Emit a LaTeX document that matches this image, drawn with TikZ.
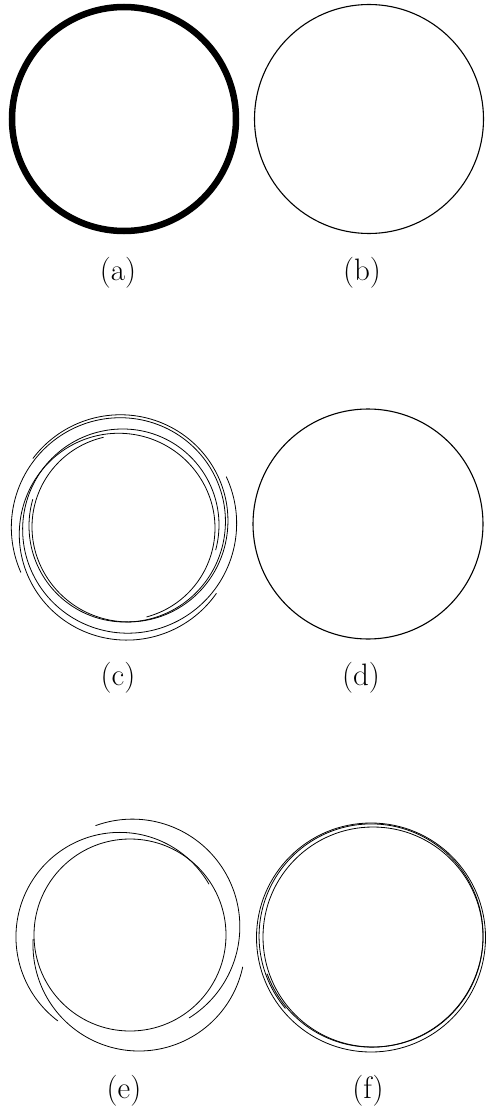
\documentclass[tikz,border=0pt]{standalone}
\tikzset{
  declare function={ss(\x)=3*(min(1,\x))^2-2*(min(1,\x))^3;},
  sk/.style={line width=0.8pt, line cap=round},
  thick ring/.style={line width=6.5pt},
  lbl/.style={inner sep=0pt, font=\fontsize{31}{37}\selectfont}
}
\newcommand\spiralstroke[7]{%
  \draw[sk] plot[domain=#3:#4,samples=180,smooth,variable=\t]
    ({#1+(#5+(#6-#5)*ss((\t-#3)/#7))*cos(\t)},{#2+(#5+(#6-#5)*ss((\t-#3)/#7))*sin(\t)});}
\begin{document}
\begin{tikzpicture}[x=1pt,y=-1pt]
\useasboundingbox (0,0) rectangle (486,1107);
% (a) and (b)
\draw[thick ring] (124,119) circle[radius=112];
\draw[line width=1.1pt] (369,119) circle[radius=114.5];
\node[lbl] (la) at (118,273) {(a)};
\node[lbl] (lb) at (362,273) {(b)};
% (c)
\spiralstroke{124}{527}{217}{617}{114}{92}{300}
\spiralstroke{123}{525}{335}{735}{114}{96}{300}
\spiralstroke{125}{526}{156}{556}{114}{96}{300}
\spiralstroke{123}{528}{35}{435}{114}{92}{300}
% (d)
\draw[line width=1.1pt] (368,524) circle[radius=115];
\node[lbl] (lc) at (118,678) {(c)};
\node[lbl] (ld) at (361,678) {(d)};
% (e)
\draw[sk] (130,935) circle[radius=96];
\spiralstroke{124}{933}{127}{330}{110}{98}{203}
\spiralstroke{133}{928}{250}{418}{109}{106}{168}
\spiralstroke{139}{945}{12}{183}{106}{106}{171}
% (f)
\draw[sk] (371,937.5) circle[radius=114.5];
\draw[sk] (373,937) circle[radius=110];
\spiralstroke{371.5}{936}{140}{520}{112.5}{111}{380}
\node[lbl] (le) at (124,1091) {(e)};
\node[lbl] (lf) at (368,1091) {(f)};
\end{tikzpicture}
\end{document}
